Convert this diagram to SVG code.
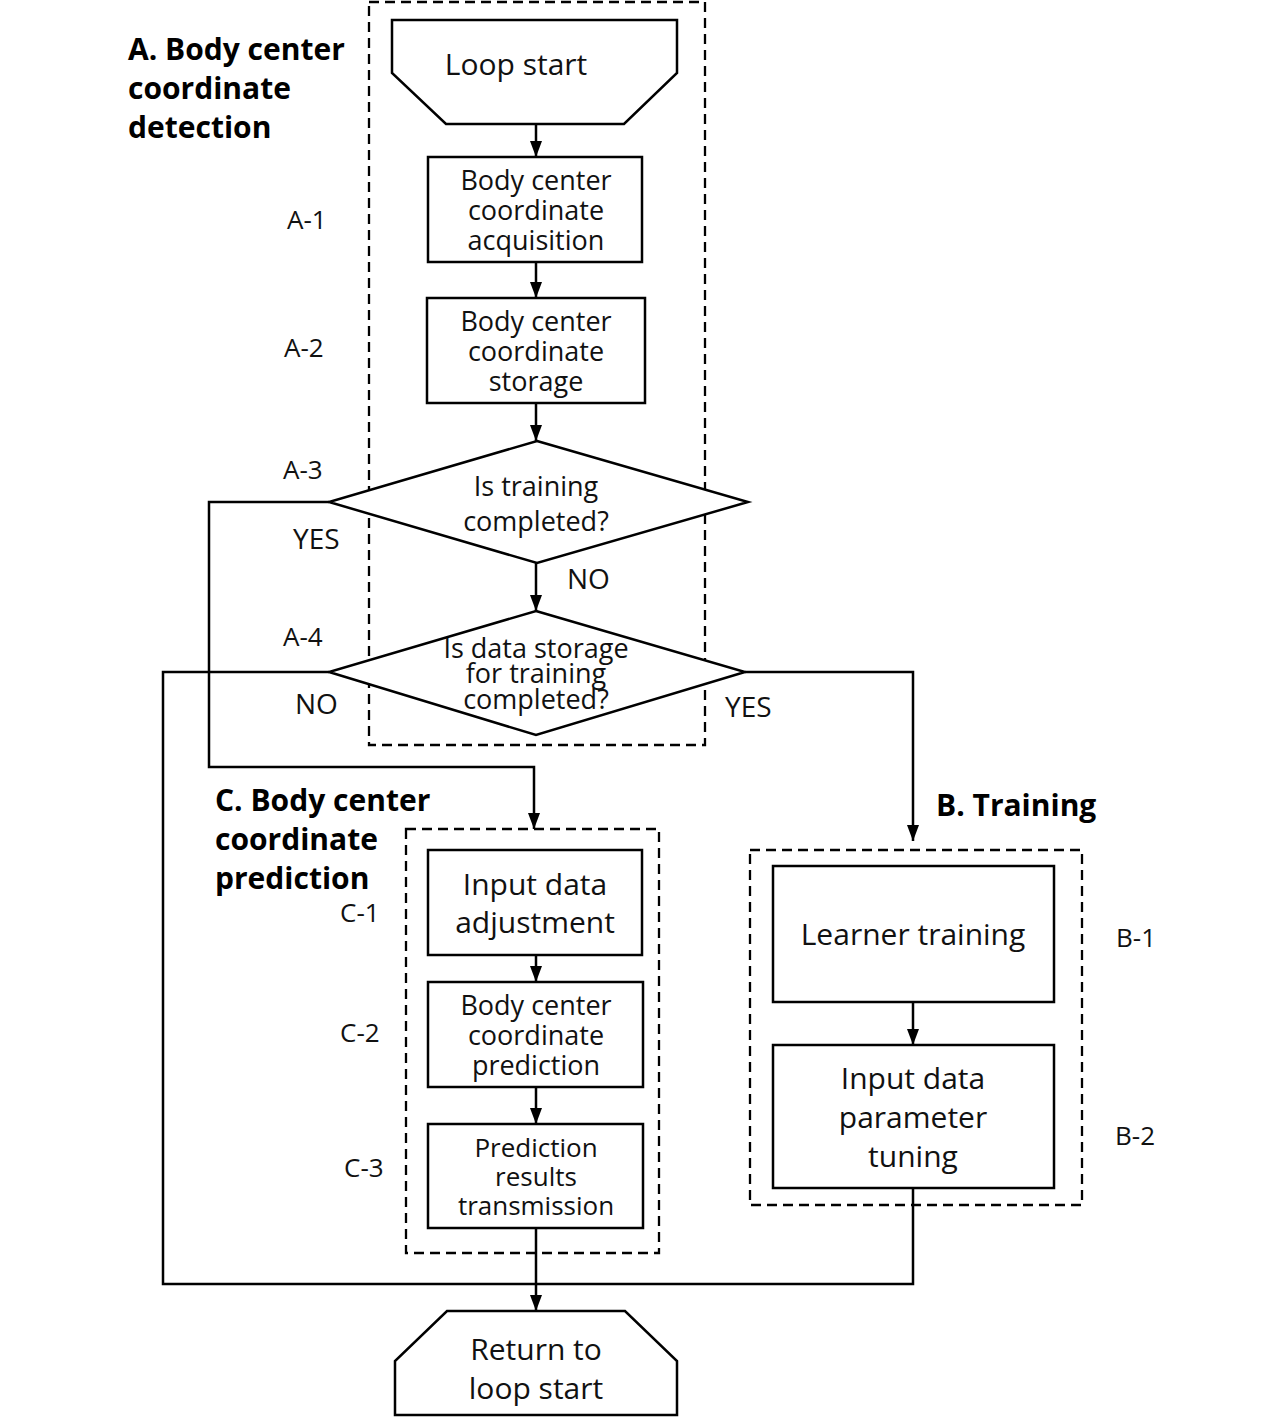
<svg xmlns="http://www.w3.org/2000/svg" width="1284" height="1418" viewBox="0 0 1284 1418">
<defs>
<marker id="arrow" viewBox="0 0 16 12" refX="16" refY="6" markerWidth="16" markerHeight="12" markerUnits="userSpaceOnUse" orient="auto">
<path d="M0,0 L16,6 L0,12 z" fill="#000"/>
</marker>
</defs>
<style>
.box{fill:#fff;stroke:#000;stroke-width:2.5}
.grp{fill:none;stroke:#000;stroke-width:2.3;stroke-dasharray:10 6}
.ln{fill:none;stroke:#000;stroke-width:2.5}
.t{font-family:"Open Sans","Noto Sans",sans-serif;font-size:27px;fill:#111;text-anchor:middle}
.tl{font-family:"Open Sans","Noto Sans",sans-serif;font-size:30px;fill:#111;text-anchor:middle}
.lab{font-family:"Open Sans","Noto Sans",sans-serif;font-size:26px;fill:#111}
.yn{font-family:"Open Sans","Noto Sans",sans-serif;font-size:28px;fill:#111}
.h{font-family:"Open Sans","Noto Sans",sans-serif;font-size:30px;font-weight:bold;fill:#000}
</style>
<rect width="1284" height="1418" fill="#fff"/>

<g id="groups">
<rect class="grp" x="369" y="2" width="336" height="743"/>
<rect class="grp" x="406" y="829" width="253" height="424"/>
<rect class="grp" x="750" y="850" width="332" height="355"/>
</g>

<g id="connectors">
<line class="ln" x1="536" y1="124" x2="536" y2="157" marker-end="url(#arrow)"/>
<line class="ln" x1="536" y1="262" x2="536" y2="298" marker-end="url(#arrow)"/>
<line class="ln" x1="536" y1="403" x2="536" y2="441" marker-end="url(#arrow)"/>
<line class="ln" x1="536" y1="563" x2="536" y2="611" marker-end="url(#arrow)"/>
<polyline class="ln" points="329,502 209,502 209,767 534,767 534,829" marker-end="url(#arrow)"/>
<polyline class="ln" points="745,672 913,672 913,841" marker-end="url(#arrow)"/>
<polyline class="ln" points="329,672 163,672 163,1284 913,1284 913,1188"/>
<line class="ln" x1="536" y1="955" x2="536" y2="982" marker-end="url(#arrow)"/>
<line class="ln" x1="536" y1="1087" x2="536" y2="1124" marker-end="url(#arrow)"/>
<line class="ln" x1="536" y1="1228" x2="536" y2="1311" marker-end="url(#arrow)"/>
<line class="ln" x1="913" y1="1002" x2="913" y2="1045" marker-end="url(#arrow)"/>
</g>

<g id="loop-start">
<polygon class="box" points="392,20 677,20 677,73 624,124 446,124 392,73"/>
<text class="tl" x="516" y="75">Loop start</text>
</g>

<g id="A-1">
<rect class="box" x="428" y="157" width="214" height="105"/>
<text class="t" x="536" y="190">Body center</text>
<text class="t" x="536" y="220">coordinate</text>
<text class="t" x="536" y="250">acquisition</text>
</g>

<g id="A-2">
<rect class="box" x="427" y="298" width="218" height="105"/>
<text class="t" x="536" y="331">Body center</text>
<text class="t" x="536" y="361">coordinate</text>
<text class="t" x="536" y="391">storage</text>
</g>

<g id="A-3">
<polygon class="box" points="537,441 748,502 537,563 329,502"/>
<text class="t" x="536" y="496">Is training</text>
<text class="t" x="536" y="531">completed?</text>
</g>

<g id="A-4">
<polygon class="box" points="536,611 745,672 536,735 329,672"/>
<text class="t" x="536" y="658">Is data storage</text>
<text class="t" x="536" y="683">for training</text>
<text class="t" x="536" y="709">completed?</text>
</g>

<g id="C-1">
<rect class="box" x="428" y="850" width="214" height="105"/>
<text class="tl" x="535" y="895">Input data</text>
<text class="tl" x="535" y="933">adjustment</text>
</g>

<g id="C-2">
<rect class="box" x="428" y="982" width="215" height="105"/>
<text class="t" x="536" y="1015">Body center</text>
<text class="t" x="536" y="1045">coordinate</text>
<text class="t" x="536" y="1075">prediction</text>
</g>

<g id="C-3">
<rect class="box" x="428" y="1124" width="215" height="104"/>
<text class="t" x="536" y="1157" style="font-size:26px">Prediction</text>
<text class="t" x="536" y="1186" style="font-size:26px">results</text>
<text class="t" x="536" y="1215" style="font-size:26px">transmission</text>
</g>

<g id="B-1">
<rect class="box" x="773" y="866" width="281" height="136"/>
<text class="tl" x="913" y="945">Learner training</text>
</g>

<g id="B-2">
<rect class="box" x="773" y="1045" width="281" height="143"/>
<text class="tl" x="913" y="1089">Input data</text>
<text class="tl" x="913" y="1128">parameter</text>
<text class="tl" x="913" y="1167">tuning</text>
</g>

<g id="return">
<polygon class="box" points="447,1311 625,1311 677,1361 677,1415 395,1415 395,1361"/>
<text class="tl" x="536" y="1360">Return to</text>
<text class="tl" x="536" y="1399">loop start</text>
</g>

<g id="labels">
<text class="h" x="128" y="60">A. Body center</text>
<text class="h" x="128" y="99">coordinate</text>
<text class="h" x="128" y="138">detection</text>
<text class="h" x="215" y="811">C. Body center</text>
<text class="h" x="215" y="850">coordinate</text>
<text class="h" x="215" y="889">prediction</text>
<text class="h" x="936" y="816">B. Training</text>
<text class="lab" x="287" y="229">A-1</text>
<text class="lab" x="284" y="357">A-2</text>
<text class="lab" x="283" y="479">A-3</text>
<text class="lab" x="283" y="646">A-4</text>
<text class="yn" x="293" y="549">YES</text>
<text class="yn" x="295" y="714">NO</text>
<text class="yn" x="567" y="589">NO</text>
<text class="yn" x="725" y="717">YES</text>
<text class="lab" x="340" y="922">C-1</text>
<text class="lab" x="340" y="1042">C-2</text>
<text class="lab" x="344" y="1177">C-3</text>
<text class="lab" x="1116" y="947">B-1</text>
<text class="lab" x="1115" y="1145">B-2</text>
</g>
</svg>
